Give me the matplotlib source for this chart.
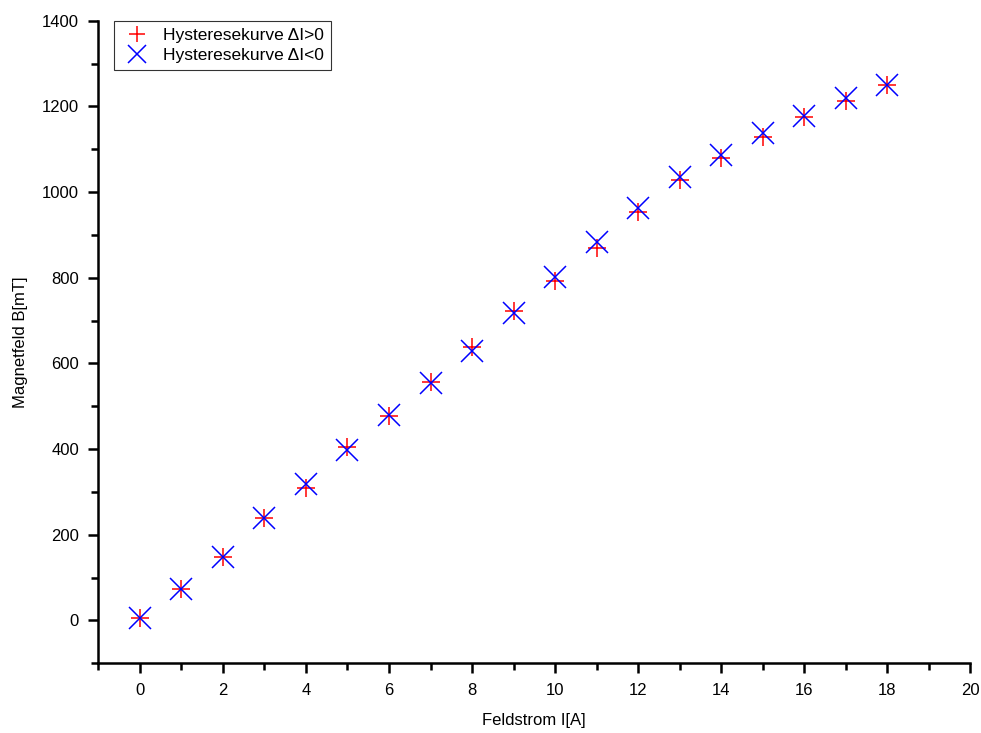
import matplotlib.pyplot as plt
from matplotlib.ticker import MultipleLocator

plt.rcParams['font.family'] = ['Liberation Sans', 'DejaVu Sans']

# Feldstrom in A
strom = [0, 1, 2, 3, 4, 5, 6, 7, 8, 9, 10, 11, 12, 13, 14, 15, 16, 17, 18]
# Magnetfeld in mT, steigender Strom (dI>0)
b_auf = [5, 74, 147, 240, 309, 404, 478, 557, 638, 723, 793, 869, 954, 1029, 1079, 1129, 1174, 1213, 1251]
# Magnetfeld in mT, fallender Strom (dI<0)
b_ab = [6, 74, 147, 240, 319, 397, 480, 555, 629, 717, 802, 884, 963, 1034, 1087, 1137, 1178, 1220, 1251]

fig = plt.figure(figsize=(9.81, 7.33), dpi=100)
ax = fig.add_axes([0.1004, 0.0951, 0.8884, 0.8767])

ax.plot(strom, b_auf, linestyle='none', marker='+', color='red',
        markersize=13, markeredgewidth=1.1, label='Hysteresekurve \u0394I>0')
ax.plot(strom, b_ab, linestyle='none', marker='x', color='blue',
        markersize=16, markeredgewidth=1.1, label='Hysteresekurve \u0394I<0')

ax.set_xlim(-1, 20)
ax.set_ylim(-100, 1400)
ax.xaxis.set_major_locator(MultipleLocator(2))
ax.xaxis.set_minor_locator(MultipleLocator(1))
ax.yaxis.set_major_locator(MultipleLocator(200))
ax.yaxis.set_minor_locator(MultipleLocator(100))

for side in ['top', 'right']:
    ax.spines[side].set_visible(False)
for side in ['left', 'bottom']:
    ax.spines[side].set_linewidth(1.8)

ax.tick_params(which='major', direction='out', length=7, width=1.8, labelsize=12, pad=7)
ax.tick_params(which='minor', direction='out', length=5, width=1.8)

ax.set_xlabel('Feldstrom I[A]', fontsize=12, labelpad=11)
ax.set_ylabel('Magnetfeld B[mT]', fontsize=12, labelpad=10)

leg = ax.legend(loc='upper left', bbox_to_anchor=(0.018, 1.0), fontsize=12.5,
                frameon=True, fancybox=False, borderpad=0.4, handletextpad=0.6,
                labelspacing=0.3, borderaxespad=0.0, handlelength=1.8,
                markerscale=0.85)
leg.get_frame().set_edgecolor('black')
leg.get_frame().set_linewidth(0.8)

fig.savefig('out.png', dpi=100)
